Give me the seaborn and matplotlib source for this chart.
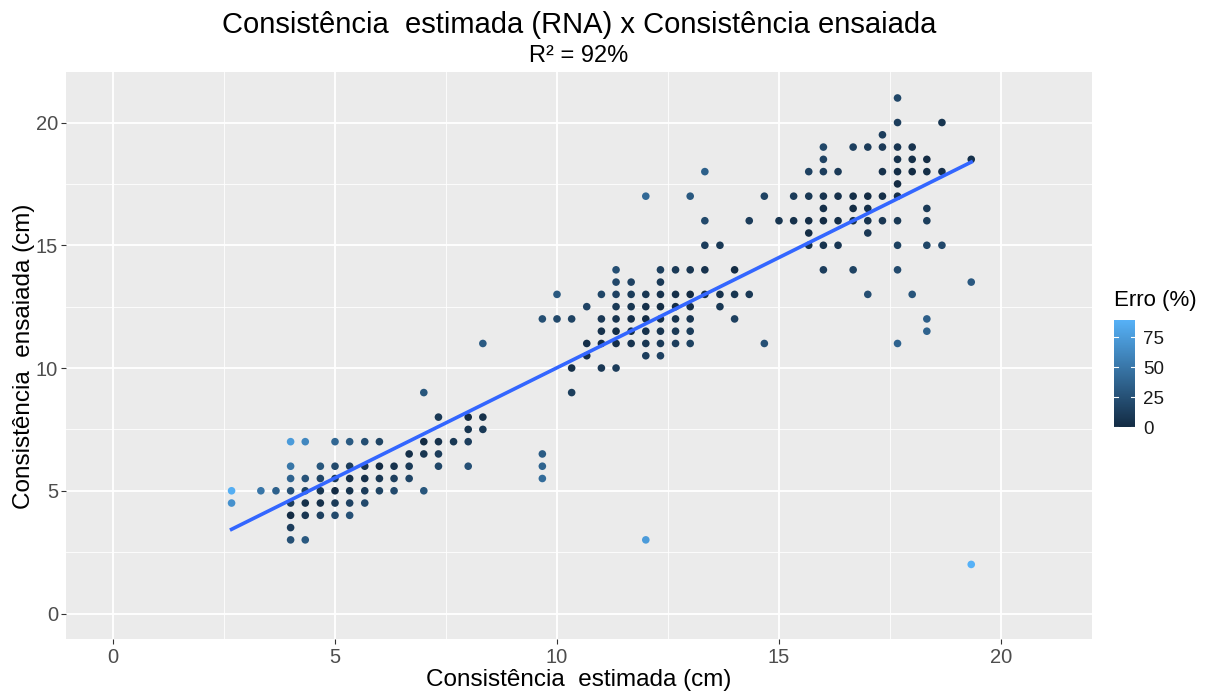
import numpy as np
import pandas as pd
import matplotlib
matplotlib.use('Agg')
import matplotlib.pyplot as plt
import seaborn as sns
from matplotlib.colors import LinearSegmentedColormap, Normalize
from matplotlib.cm import ScalarMappable

# Consistencia estimada pela RNA (cm), lida linha a linha do grafico
estimada = [
    17.67,
    17.67, 18.67,
    17.33,
    16.0, 16.67, 17.0, 17.33, 17.67, 18.0,
    16.0, 17.67, 18.0, 18.33, 19.33,
    13.33, 15.67, 16.0, 16.33, 17.33, 17.67, 18.0, 18.33, 18.67,
    17.67,
    12.0, 13.0, 14.67, 15.33, 15.67, 16.0, 16.33, 16.67, 17.0, 17.33, 17.67,
    16.0, 16.67, 17.0, 18.33,
    13.33, 14.33, 15.0, 15.33, 15.67, 16.0, 16.33, 16.67, 17.0, 17.33, 17.67, 18.33,
    15.67, 17.0,
    13.33, 13.67, 15.67, 16.0, 16.33, 17.67, 18.33, 18.67,
    11.33, 12.33, 12.67, 13.0, 13.33, 14.0, 16.0, 16.67, 17.67,
    11.33, 11.67, 12.33, 19.33,
    10.0, 11.0, 11.33, 11.67, 12.0, 12.33, 12.67, 13.0, 13.33, 13.67, 14.0, 14.33, 17.0, 18.0,
    10.67, 11.33, 11.67, 12.0, 12.33, 12.67, 13.0, 13.67,
    9.67, 10.0, 10.33, 11.0, 11.33, 11.67, 12.0, 12.33, 12.67, 13.0, 14.0, 18.33,
    11.0, 11.33, 11.67, 12.0, 12.33, 12.67, 13.0, 18.33,
    8.33, 10.67, 11.0, 11.33, 11.67, 12.0, 12.33, 12.67, 13.0, 14.67, 17.67,
    10.67, 12.0, 12.33,
    10.33, 11.0, 11.33,
    7.0, 10.33,
    7.33, 8.0, 8.33,
    8.0, 8.33,
    4.0, 4.33, 5.0, 5.33, 5.67, 6.0, 7.0, 7.33, 7.67, 8.0,
    6.67, 7.0, 7.33, 9.67,
    4.0, 4.67, 5.0, 5.33, 5.67, 6.0, 6.33, 6.67, 7.33, 8.0, 9.67,
    4.0, 4.33, 4.67, 5.0, 5.33, 5.67, 6.0, 6.33, 6.67, 9.67,
    2.67, 3.33, 3.67, 4.0, 4.33, 4.67, 5.0, 5.33, 5.67, 6.0, 6.33, 7.0,
    2.67, 4.0, 4.33, 4.67, 5.0, 5.33, 5.67,
    4.0, 4.33, 4.67, 5.0, 5.33,
    4.0,
    4.0, 4.33, 12.0,
    19.33,
]

# Consistencia ensaiada (cm), mesma ordem
ensaiada = [
    21.0,
    20.0, 20.0,
    19.5,
    19.0, 19.0, 19.0, 19.0, 19.0, 19.0,
    18.5, 18.5, 18.5, 18.5, 18.5,
    18.0, 18.0, 18.0, 18.0, 18.0, 18.0, 18.0, 18.0, 18.0,
    17.5,
    17.0, 17.0, 17.0, 17.0, 17.0, 17.0, 17.0, 17.0, 17.0, 17.0, 17.0,
    16.5, 16.5, 16.5, 16.5,
    16.0, 16.0, 16.0, 16.0, 16.0, 16.0, 16.0, 16.0, 16.0, 16.0, 16.0, 16.0,
    15.5, 15.5,
    15.0, 15.0, 15.0, 15.0, 15.0, 15.0, 15.0, 15.0,
    14.0, 14.0, 14.0, 14.0, 14.0, 14.0, 14.0, 14.0, 14.0,
    13.5, 13.5, 13.5, 13.5,
    13.0, 13.0, 13.0, 13.0, 13.0, 13.0, 13.0, 13.0, 13.0, 13.0, 13.0, 13.0, 13.0, 13.0,
    12.5, 12.5, 12.5, 12.5, 12.5, 12.5, 12.5, 12.5,
    12.0, 12.0, 12.0, 12.0, 12.0, 12.0, 12.0, 12.0, 12.0, 12.0, 12.0, 12.0,
    11.5, 11.5, 11.5, 11.5, 11.5, 11.5, 11.5, 11.5,
    11.0, 11.0, 11.0, 11.0, 11.0, 11.0, 11.0, 11.0, 11.0, 11.0, 11.0,
    10.5, 10.5, 10.5,
    10.0, 10.0, 10.0,
    9.0, 9.0,
    8.0, 8.0, 8.0,
    7.5, 7.5,
    7.0, 7.0, 7.0, 7.0, 7.0, 7.0, 7.0, 7.0, 7.0, 7.0,
    6.5, 6.5, 6.5, 6.5,
    6.0, 6.0, 6.0, 6.0, 6.0, 6.0, 6.0, 6.0, 6.0, 6.0, 6.0,
    5.5, 5.5, 5.5, 5.5, 5.5, 5.5, 5.5, 5.5, 5.5, 5.5,
    5.0, 5.0, 5.0, 5.0, 5.0, 5.0, 5.0, 5.0, 5.0, 5.0, 5.0, 5.0,
    4.5, 4.5, 4.5, 4.5, 4.5, 4.5, 4.5,
    4.0, 4.0, 4.0, 4.0, 4.0,
    3.5,
    3.0, 3.0, 3.0,
    2.0,
]

eixo_ticks = [0, 5, 10, 15, 20]
legenda_ticks = [0, 25, 50, 75]

titulo = 'Consistência  estimada (RNA) x Consistência ensaiada'
subtitulo = 'R² = 92%'

df = pd.DataFrame({'estimada': estimada, 'ensaiada': ensaiada})
# erro relativo em relacao ao valor estimado
df['erro'] = (df['ensaiada'] - df['estimada']).abs() / df['estimada'] * 100

plt.rcParams['font.family'] = ['Liberation Sans', 'DejaVu Sans']

W, H = 1217, 695
fig = plt.figure(figsize=(W / 100, H / 100), dpi=100)
ax = fig.add_axes([66.4 / W, 1 - 639.3 / H, (1092 - 66.4) / W, (639.3 - 72.2) / H])
cax = fig.add_axes([1114 / W, 1 - 427 / H, 21 / W, 107 / H])

cmap = LinearSegmentedColormap.from_list('gg', ['#132B43', '#56B1F7'])
norm = Normalize(vmin=df['erro'].min(), vmax=df['erro'].max())

ax.set_facecolor('#EBEBEB')
sns.scatterplot(data=df, x='estimada', y='ensaiada', hue='erro', palette=cmap,
                hue_norm=norm, s=30, linewidth=0, legend=False, ax=ax, zorder=3)
sns.regplot(data=df, x='estimada', y='ensaiada', scatter=False, ci=None,
            color='#3366FF', line_kws={'lw': 2.6, 'zorder': 4}, ax=ax)

ax.set_xlim(-1.05, 22.05)
ax.set_ylim(-1.05, 22.05)
ax.set_xticks(eixo_ticks)
ax.set_yticks(eixo_ticks)
ax.set_xticks([2.5, 7.5, 12.5, 17.5], minor=True)
ax.set_yticks([2.5, 7.5, 12.5, 17.5], minor=True)
ax.grid(which='major', color='white', lw=1.3)
ax.grid(which='minor', color='white', lw=0.6)
ax.set_axisbelow(True)
for s in ax.spines.values():
    s.set_visible(False)
ax.tick_params(which='major', length=3.5, width=0.8, color='#333333',
               labelsize=14.5, labelcolor='#4D4D4D', pad=2.5)
ax.tick_params(which='minor', length=0)
ax.set_xlabel('')
ax.set_ylabel('')

fig.text(579 / W, 1 - 33 / H, titulo, ha='center', va='baseline', fontsize=21)
fig.text(579 / W, 1 - 62 / H, subtitulo, ha='center', va='baseline', fontsize=17)
fig.text(579 / W, 1 - 686 / H, 'Consistência  estimada (cm)', ha='center',
         va='baseline', fontsize=17.5)
fig.text(24 / W, 1 - 356 / H, 'Consistência  ensaiada (cm)', ha='center',
         va='center', rotation=90, fontsize=17.5)

cb = fig.colorbar(ScalarMappable(norm=norm, cmap=cmap), cax=cax, ticks=legenda_ticks)
cb.outline.set_visible(False)
cax.tick_params(length=0, labelsize=13.5, labelcolor='#1A1A1A', pad=6)
for t in legenda_ticks:
    cax.plot([0, 0.2], [t, t], color='white', lw=0.8, transform=cax.get_yaxis_transform())
    cax.plot([0.8, 1], [t, t], color='white', lw=0.8, transform=cax.get_yaxis_transform())
fig.text(1114 / W, 1 - 306 / H, 'Erro (%)', ha='left', va='baseline', fontsize=16)

fig.savefig('out.png', dpi=100)
